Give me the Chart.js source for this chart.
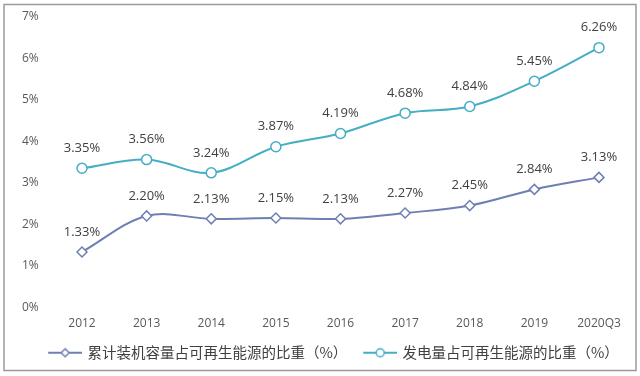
<!DOCTYPE html>
<html>
<head>
<meta charset="utf-8">
<script src="https://cdn.jsdelivr.net/npm/chart.js@4/dist/chart.umd.min.js"></script>
<style>
    html, body { margin: 0; padding: 0; background: #fff; }
    #wrap { width: 640px; height: 376px; }
</style>
</head>
<body>
<div id="wrap"><canvas id="chart" width="640" height="376"></canvas></div>
<script>
const years = ['2012', '2013', '2014', '2015', '2016', '2017', '2018', '2019', '2020Q3'];
const capacityShare = [1.33, 2.20, 2.13, 2.15, 2.13, 2.27, 2.45, 2.84, 3.13];
const generationShare = [3.35, 3.56, 3.24, 3.87, 4.19, 4.68, 4.84, 5.45, 6.26];
const capacityLabel = '累计装机容量占可再生能源的比重（%）';
const generationLabel = '发电量占可再生能源的比重（%）';

const blue = '#6e7fb4';
const teal = '#45aec4';

// line+marker icon for the legend, with some blank room on the left
function legendIcon(color, style) {
    const c = document.createElement('canvas');
    c.width = 46;
    c.height = 12;
    const ctx = c.getContext('2d');
    ctx.strokeStyle = color;
    ctx.lineWidth = 2;
    ctx.beginPath();
    ctx.moveTo(12, 6);
    ctx.lineTo(46, 6);
    ctx.stroke();
    ctx.fillStyle = '#fff';
    ctx.lineWidth = 1.5;
    ctx.beginPath();
    if (style === 'circle') {
        ctx.arc(29, 6, 4, 0, Math.PI * 2);
    } else {
        ctx.moveTo(29, 2);
        ctx.lineTo(33, 6);
        ctx.lineTo(29, 10);
        ctx.lineTo(25, 6);
        ctx.closePath();
    }
    ctx.fill();
    ctx.stroke();
    return c;
}

const valueLabels = {
    id: 'valueLabels',
    afterDatasetsDraw(chart) {
        const ctx = chart.ctx;
        ctx.save();
        ctx.font = '13px "Open Sans", "Liberation Sans", sans-serif';
        ctx.fillStyle = '#404040';
        ctx.textAlign = 'center';
        ctx.textBaseline = 'middle';
        chart.data.datasets.forEach((ds, i) => {
            chart.getDatasetMeta(i).data.forEach((pt, j) => {
                ctx.fillText(ds.data[j].toFixed(2) + '%', pt.x, pt.y - 20);
            });
        });
        ctx.restore();
    }
};

const frame = {
    id: 'frame',
    beforeDraw(chart) {
        const ctx = chart.ctx;
        ctx.save();
        ctx.fillStyle = '#fff';
        ctx.fillRect(0, 0, chart.width, chart.height);
        ctx.strokeStyle = '#9a9a9a';
        ctx.lineWidth = 1.5;
        ctx.strokeRect(4, 4.5, 632, 366);
        ctx.restore();
    }
};

new Chart(document.getElementById('chart'), {
    type: 'line',
    data: {
        labels: years,
        datasets: [
            {
                label: capacityLabel,
                data: capacityShare,
                borderColor: blue,
                backgroundColor: '#fff',
                borderWidth: 2,
                tension: 0.35,
                pointStyle: 'rectRot',
                pointRadius: 5,
                pointBorderWidth: 1.5,
                pointBorderColor: blue,
                pointBackgroundColor: '#fff'
            },
            {
                label: generationLabel,
                data: generationShare,
                borderColor: teal,
                backgroundColor: '#fff',
                borderWidth: 2,
                tension: 0.35,
                pointStyle: 'circle',
                pointRadius: 5,
                pointBorderWidth: 1.5,
                pointBorderColor: teal,
                pointBackgroundColor: '#fff'
            }
        ]
    },
    options: {
        responsive: false,
        animation: false,
        layout: {
            padding: { left: 22, right: 5, top: 17, bottom: 6 }
        },
        plugins: {
            tooltip: { enabled: false },
            legend: {
                position: 'bottom',
                labels: {
                    usePointStyle: true,
                    pointStyleWidth: 42,
                    generateLabels(chart) {
                        return [
                            { text: capacityLabel, pointStyle: legendIcon(blue, 'diamond'), datasetIndex: 0, fontColor: '#404040', lineWidth: 0 },
                            { text: generationLabel, pointStyle: legendIcon(teal, 'circle'), datasetIndex: 1, fontColor: '#404040', lineWidth: 0 }
                        ];
                    },
                    color: '#404040',
                    padding: 6,
                    font: { family: '"Noto Sans CJK SC", sans-serif', size: 14.5, lineHeight: 1 }
                }
            }
        },
        scales: {
            x: {
                grid: { display: false, drawTicks: false },
                border: { display: false },
                ticks: {
                    color: '#595959',
                    padding: 9,
                    font: { family: '"Open Sans", "Liberation Sans", sans-serif', size: 12 }
                }
            },
            y: {
                min: 0,
                max: 7,
                afterFit(scale) { scale.width = 60; },
                grid: { display: false },
                border: { display: false },
                ticks: {
                    stepSize: 1,
                    crossAlign: 'far',
                    color: '#595959',
                    font: { family: '"Open Sans", "Liberation Sans", sans-serif', size: 12 },
                    callback: v => v + '%'
                }
            },
            // empty axis on the right, only to hold the plot edge in place
            yRight: {
                position: 'right',
                min: 0,
                max: 7,
                afterFit(scale) { scale.width = 36; },
                grid: { display: false },
                border: { display: false },
                ticks: { display: false }
            }
        }
    },
    plugins: [frame, valueLabels]
});
</script>
</body>
</html>
